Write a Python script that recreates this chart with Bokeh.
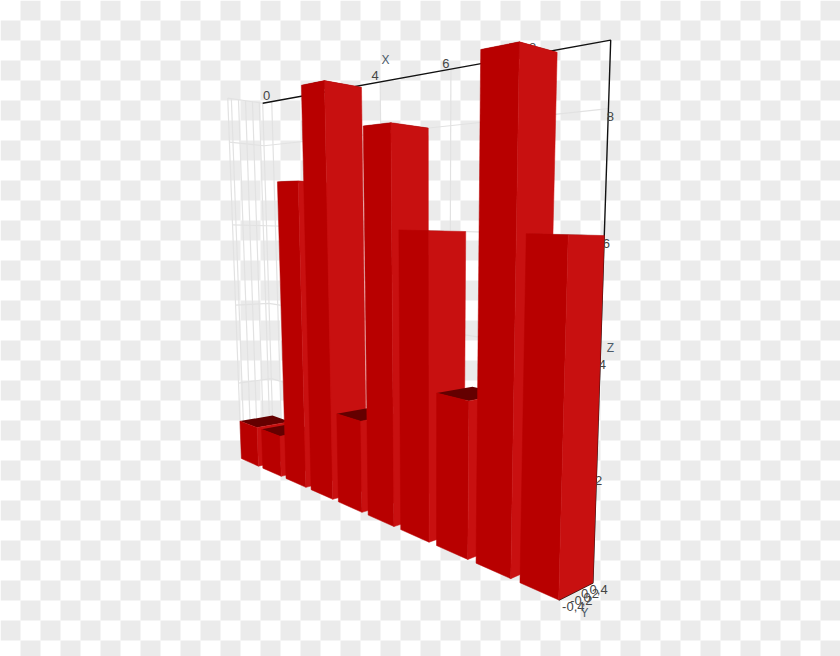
import numpy as np
from bokeh.plotting import figure
from bokeh.embed import file_html
from bokeh.resources import INLINE
from bokeh.core.properties import value

# --- chart data ---
bar_x = [0, 1, 2, 3, 4, 5, 6, 7, 8, 9]
bar_z = [1, 1, 7, 9, 2, 8, 6, 3, 9, 6]
x_ticks = [0, 2, 4, 6, 8]
x_labels = ["0", "2", "4", "6", "8"]
y_ticks = [-0.4, -0.2, 0, 0.2, 0.4]
y_labels = ["-0,4", "-0,2", "0", "0,2", "0,4"]
z_ticks = [2, 4, 6, 8]
z_labels = ["2", "4", "6", "8"]

# --- scene extent ---
X0, X1 = -0.4, 9.4
Y0, Y1 = -0.5, 0.5
Z0, Z1 = 0, 9.04
HALF = 0.4

# --- camera: projective matrix fitted to where the scene's corners fall on the page ---
anchors = [((X1, Y0, Z0), (558, 601)), ((X1, Y1, Z0), (590, 582)), ((X1, Y1, Z1), (611, 42)),
           ((X0, Y1, Z1), (262, 102)), ((X0, Y0, Z0), (240, 457)), ((X0, Y0, Z1), (227, 99)),
           ((X0, Y1, Z0), (272, 458)), ((X1, Y1, 6), (605, 232)), ((X1, Y1, 2), (597, 468)),
           ((4, Y1, Z1), (380, 81.7)), ((6, Y1, Z1), (450, 69.6)), ((0, Y1, Z1), (272, 100.3)),
           ((4.6, Y0, Z0), (367, 514.5)), ((7.6, Y0, Z0), (476, 563.9)),
           ((8.6, Y0, 6), (527, 235)), ((9.4, Y0, 6), (569, 234)), ((9.4, Y1, 6), (603.5, 235)),
           ((7.6, Y0, 9), (481, 49)), ((8.4, Y0, 9), (519, 42)), ((8.4, Y1, 9), (557, 51)),
           ((2.6, Y0, 9), (300, 84)), ((3.4, Y0, 9), (323, 80)), ((3.4, Y1, 9), (361, 88)),
           ((4.6, Y0, 8), (362, 124)), ((5.4, Y0, 8), (390, 122.5)), ((5.4, Y1, 8), (427, 127)),
           ((5.6, Y0, 6), (398, 231)), ((6.4, Y0, 6), (428, 229)), ((6.4, Y1, 6), (465, 231)),
           ((6.6, Y0, 3), (436, 394)), ((7.4, Y0, 3), (468, 402)), ((3.6, Y0, 2), (337, 413)),
           ((4.4, Y0, 2), (358, 421)), ((-0.4, Y0, 1), (240, 419)), ((0.4, Y0, 1), (258, 427)),
           ((X0, Y1, 1), (273, 412)), ((0.6, Y0, 1), (262, 428)), ((1.4, Y0, 1), (280, 435)),
           ((1.6, Y0, 7), (277, 181)), ((7.4, Y0, 0), (468, 558))]
A, b = [], []
for (X, Y, Z), (u, v) in anchors:
    A.append([X, Y, Z, 1, 0, 0, 0, 0, -u * X, -u * Y, -u * Z]); b.append(u)
    A.append([0, 0, 0, 0, X, Y, Z, 1, -v * X, -v * Y, -v * Z]); b.append(v)
P = np.append(np.linalg.lstsq(np.array(A, float), np.array(b, float), rcond=None)[0], 1).reshape(3, 4)

def pr(X, Y, Z):
    h = P @ np.array([X, Y, Z, 1.0])
    return float(h[0] / h[2]), float(h[1] / h[2])

def poly(*pts):
    q = [pr(*t) for t in pts]
    return [a for a, _ in q], [c for _, c in q]

p = figure(width=840, height=656, x_range=(0, 840), y_range=(656, 0), output_backend="svg",
           toolbar_location=None, min_border=0, background_fill_color="white", border_fill_color="white")
p.axis.visible = False
p.grid.visible = False
p.outline_line_color = None

# checkered page background
cl, cr, ct, cb = [], [], [], []
for i in range(42):
    for j in range(33):
        if (i + j) % 2:
            cl.append(i * 20); cr.append(i * 20 + 20); ct.append(j * 20); cb.append(j * 20 + 20)
p.quad(left=cl, right=cr, top=ct, bottom=cb, fill_color="#ebebeb", line_color=None)

# grid
gx, gy = [], []
for z in z_ticks:
    a, c = poly((X0, Y0, z), (X0, Y1, z), (X1, Y1, z)); gx.append(a); gy.append(c)
for x in x_ticks:
    a, c = poly((x, Y1, Z0), (x, Y1, Z1)); gx.append(a); gy.append(c)
for y in [Y0] + y_ticks + [Y1]:
    a, c = poly((X0, y, Z0), (X0, y, Z1)); gx.append(a); gy.append(c)
a, c = poly((X0, Y0, Z1), (X0, Y1, Z1)); gx.append(a); gy.append(c)
p.multi_line(gx, gy, line_color="#e2e2e2", line_width=1.2)

# axes
ax, ay = poly((X0, Y1, Z1), (X1, Y1, Z1), (X1, Y1, Z0), (X1, Y0, Z0))
p.line(ax, ay, line_color="#111111", line_width=1.4)

# tick labels
F = value("Liberation Sans")
tx, ty, tt = [], [], []
for x, l in zip(x_ticks, x_labels):
    u, v = pr(x, Y1, Z1); tx.append(u - 5); ty.append(v - 6); tt.append(l)
for z, l in zip(z_ticks, z_labels):
    u, v = pr(X1, Y1, z); tx.append(u + 2); ty.append(v + 8); tt.append(l)
for y, l, d, e in zip(y_ticks, y_labels, [11, 12, 11, 7, 9], [8, 6, 6, 6, 5]):
    u, v = pr(X1, y, Z0); tx.append(u + d); ty.append(v + e); tt.append(l)
p.text(tx, ty, text=tt, text_font=F, text_font_size="13px", text_color="#444444",
       text_align="center", text_baseline="middle")
p.text([385, 610, 584], [59, 347, 612], text=["X", "Z", "Y"], text_font=F, text_font_size="12px",
       text_color="#4d5b69", text_align="center", text_baseline="middle")

# bars, far to near
for x, z in zip(bar_x, bar_z):
    l, r = x - HALF, x + HALF
    a, c = poly((l, Y0, z), (r, Y0, z), (r, Y1, z), (l, Y1, z))
    p.patch(a, c, fill_color="#640000", line_color=None)
    a, c = poly((l, Y0, Z0), (r, Y0, Z0), (r, Y0, z), (l, Y0, z))
    p.patch(a, c, fill_color="#b80000", line_color="#b80000", line_width=0.5)
    a, c = poly((r, Y0, Z0), (r, Y1, Z0), (r, Y1, z), (r, Y0, z))
    p.patch(a, c, fill_color="#c81010", line_color="#c81010", line_width=0.5)

open("out.html", "w").write(file_html(p, INLINE))
